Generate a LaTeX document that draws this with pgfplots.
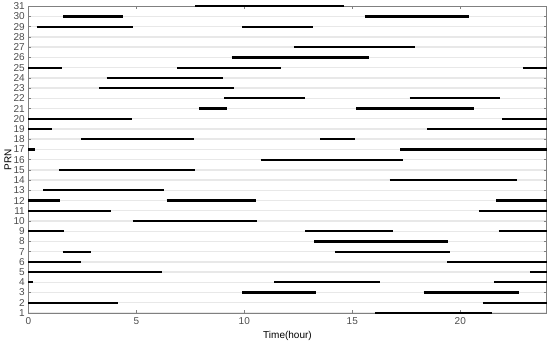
\documentclass[border=0pt]{standalone}
\usepackage{fontspec}
\setmainfont{Liberation Sans}
\usepackage{pgfplots}
\pgfplotsset{compat=1.18}
\usetikzlibrary{calc}
\definecolor{axgray}{RGB}{128,128,128}
\definecolor{gridgray}{RGB}{232,232,232}
\begin{document}
\begin{tikzpicture}
\begin{axis}[
  scale only axis,
  width=518.4pt, height=306.7pt,
  xmin=0, xmax=24, ymin=1, ymax=31,
  xtick={0,5,10,15,20},
  ytick={1,...,31},
  tick align=inside,
  major tick length=3pt,
  axis line style={axgray, line width=0.8pt},
  every tick/.style={axgray, line width=0.6pt},
  ymajorgrids,
  major grid style={gridgray, line width=1.4pt},
  tick label style={font=\fontsize{10}{10}\selectfont, text=black!70},
  /pgf/number format/assume math mode=true,
  xlabel={Time(hour)}, ylabel={PRN},
  label style={font=\fontsize{10.5}{11}\selectfont, text=black!75},
  every axis x label/.style={at={(axis description cs:0.5,0)}, yshift=-22.7pt, anchor=center},
  every axis y label/.style={at={(axis description cs:0,0.5)}, xshift=-20.3pt, rotate=90, anchor=center},
  xticklabel style={yshift=-1pt},
  yticklabel style={xshift=0pt},
  clip=false,
]
\pgfplotsinvokeforeach{1}{}
% segments: each pair separated by blank lines
\addplot[black, line width=2.2pt] coordinates {
(7.74,31) (14.60,31)

(1.62,30) (4.39,30)

(15.57,30) (20.38,30)

(0.39,29) (4.86,29)

(9.90,29) (13.18,29)

(12.30,27) (17.92,27)

(9.41,26) (15.76,26)

(0,25) (1.56,25)

(6.89,25) (11.69,25)

(22.90,25) (24,25)

(3.63,24) (9.02,24)

(3.27,23) (9.53,23)

(9.07,22) (12.80,22)

(17.65,22) (21.82,22)

(7.90,21) (9.22,21)

(15.19,21) (20.62,21)

(0,20) (4.81,20)

(21.94,20) (24,20)

(0,19) (1.11,19)

(18.47,19) (24,19)

(2.44,18) (7.66,18)

(13.52,18) (15.14,18)

(0,17) (0.30,17)

(17.22,17) (24,17)

(10.76,16) (17.35,16)

(1.41,15) (7.74,15)

(16.73,14) (22.62,14)

(0.69,13) (6.29,13)

(0,12) (1.47,12)

(6.40,12) (10.53,12)

(21.66,12) (24,12)

(0,11) (3.83,11)

(20.86,11) (24,11)

(4.83,10) (10.61,10)

(0,9) (1.65,9)

(12.83,9) (16.88,9)

(21.77,9) (24,9)

(13.23,8) (19.43,8)

(1.59,7) (2.92,7)

(14.19,7) (19.54,7)

(0,6) (2.42,6)

(19.40,6) (24,6)

(0,5) (6.20,5)

(23.24,5) (24,5)

(0,4) (0.23,4)

(11.38,4) (16.27,4)

(21.55,4) (24,4)

(9.90,3) (13.34,3)

(18.30,3) (22.70,3)

(0,2) (4.13,2)

(21.05,2) (24,2)

(16.04,1) (21.46,1)
};
\end{axis}
\pgfresetboundingbox
\path ($(current axis.south west)+(-28.3pt,-31pt)$) rectangle ($(current axis.north east)+(3.3pt,6.3pt)$);
\end{tikzpicture}
\end{document}
